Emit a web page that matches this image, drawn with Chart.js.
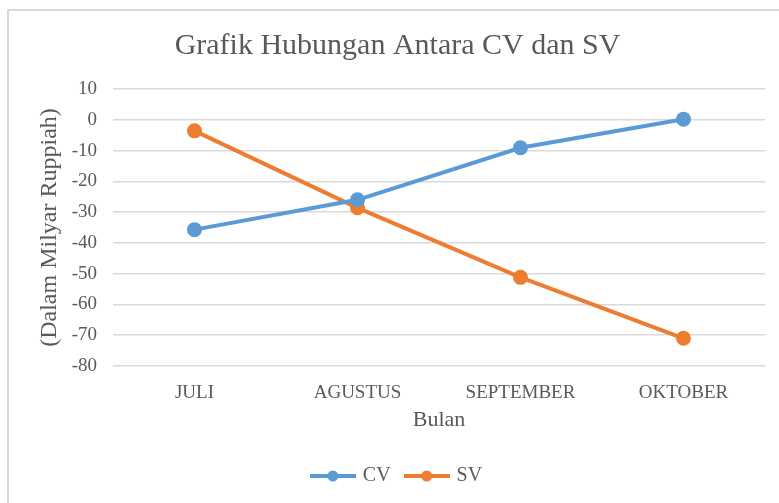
<!DOCTYPE html>
<html lang="id">
<head>
<meta charset="UTF-8">
<title>Grafik Hubungan Antara CV dan SV</title>
<script src="https://cdn.jsdelivr.net/npm/chart.js"></script>
<style>
body { margin: 0; background: #fff; }
.wrap { position: relative; width: 779px; height: 503px; overflow: hidden; }
/* bingkai abu-abu tipis seperti di Excel */
.frame { position: absolute; left: 7px; top: 9px; width: 900px; height: 700px;
         border-left: 2px solid #d9d9d9; border-top: 2px solid #d9d9d9; }
canvas { position: absolute; left: 0; top: 0; }
</style>
</head>
<body>
<div class="wrap">
  <div class="frame"></div>
  <canvas id="chart" width="779" height="503"></canvas>
</div>
<script>
// data
const bulan = ['JULI', 'AGUSTUS', 'SEPTEMBER', 'OKTOBER'];
const cv = [-35.7, -26.0, -9.1, 0.2];
const sv = [-3.6, -28.6, -51.2, -71.0];
const yMin = -80, yMax = 10, yStep = 10;

const biru = '#5B9BD5';
const oranye = '#ED7D31';
const abu = '#595959';
const huruf = "'Liberation Serif', 'Times New Roman', serif";

// ikon legenda: garis + titik
function ikon(warna) {
  const c = document.createElement('canvas');
  c.width = 46; c.height = 12;
  const g = c.getContext('2d');
  g.strokeStyle = warna; g.lineWidth = 4;
  g.beginPath(); g.moveTo(0, 6); g.lineTo(46, 6); g.stroke();
  g.fillStyle = warna;
  g.beginPath(); g.arc(23, 6, 5.5, 0, Math.PI * 2); g.fill();
  return c;
}
const ikonLegenda = [ikon(biru), ikon(oranye)];

new Chart(document.getElementById('chart'), {
  type: 'line',
  data: {
    labels: bulan,
    datasets: [
      { label: 'CV', data: cv, borderColor: biru, backgroundColor: biru,
        borderWidth: 4, pointRadius: 5.5, pointBackgroundColor: biru, pointBorderColor: biru },
      { label: 'SV', data: sv, borderColor: oranye, backgroundColor: oranye,
        borderWidth: 4, pointRadius: 5.5, pointBackgroundColor: oranye, pointBorderColor: oranye }
    ]
  },
  options: {
    responsive: false,
    animation: false,
    layout: { padding: { left: 30, right: 14, top: 10, bottom: 7 } },
    plugins: {
      title: {
        display: true,
        text: 'Grafik Hubungan Antara CV dan SV',
        color: abu,
        font: { family: huruf, size: 30, weight: 'normal' },
        padding: { top: 18, bottom: 25 }
      },
      legend: {
        position: 'bottom',
        labels: {
          usePointStyle: true,
          pointStyleWidth: 40,
          padding: 16,
          color: abu,
          font: { family: huruf, size: 20 },
          generateLabels: function (chart) {
            const items = Chart.defaults.plugins.legend.labels.generateLabels(chart);
            items.forEach((it, i) => { it.pointStyle = ikonLegenda[i]; });
            return items;
          }
        }
      },
      tooltip: { enabled: false }
    },
    scales: {
      x: {
        offset: true,
        grid: { display: false },
        border: { display: false },
        ticks: { color: abu, padding: 8, font: { family: huruf, size: 19 } },
        title: { display: true, text: 'Bulan', color: abu,
                 font: { family: huruf, size: 22 }, padding: { top: 0, bottom: 17 } },
        afterFit: function (s) { s.height = 84; }
      },
      y: {
        min: yMin, max: yMax,
        grid: { color: '#d9d9d9', lineWidth: 1.5, drawTicks: false },
        border: { display: false },
        ticks: { stepSize: yStep, color: abu, padding: 16, font: { family: huruf, size: 19 } },
        title: { display: true, text: '(Dalam Milyar Ruppiah)', color: abu,
                 font: { family: huruf, size: 24 }, padding: { top: 5, bottom: 0 } },
        afterFit: function (s) { s.width = 83; }
      }
    }
  }
});
</script>
</body>
</html>
